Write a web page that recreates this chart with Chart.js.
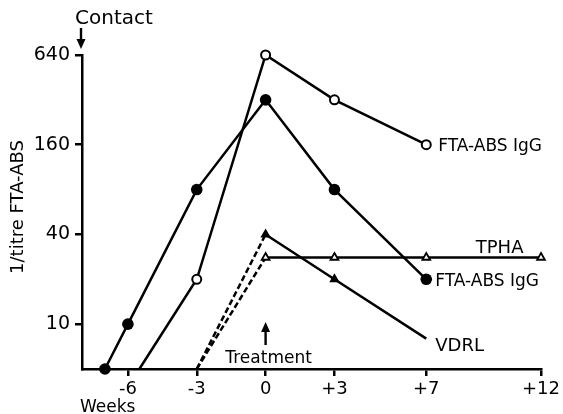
<!DOCTYPE html>
<html>
<head>
<meta charset="utf-8">
<script src="https://cdn.jsdelivr.net/npm/chart.js@4/dist/chart.umd.min.js"></script>
<style>
  html, body { margin: 0; padding: 0; background: #fff; }
  #wrap { width: 563px; height: 414px; }
</style>
</head>
<body>
<div id="wrap"><canvas id="c" width="563" height="414"></canvas></div>
<script>
// ---- data (weeks relative to treatment, 1/titre) ----
const openIgGWeeks   = [-5.5, -3, 0, 3, 7];
const openIgGTitres  = [5, 20, 640, 320, 160];
const filledIgGWeeks = [-7, -6, -3, 0, 3, 7];
const filledIgGTitres= [5, 10, 80, 320, 80, 20];
const vdrlWeeks      = [-3, 0, 3, 7];
const vdrlTitres     = [5, 40, 20, 8];
const tphaWeeks      = [-3, 0, 3, 7, 12];
const tphaTitres     = [5, 28, 28, 28, 28];
const xTickValues    = [-6, -3, 0, 3, 7, 12];
const xTickLabels    = ['-6', '-3', '0', '+3', '+7', '+12'];
const yTickValues    = [10, 40, 160, 640];
const seriesLabels   = ['FTA-ABS IgG', 'FTA-ABS IgG', 'VDRL', 'TPHA'];

const FONT = '"DejaVu Sans", sans-serif';
const pts = (xs, ys) => xs.map((x, i) => ({x: x, y: ys[i]}));
const dashBeforeZero = ctx => ctx.p0.parsed.x < 0 ? [6, 3] : undefined;

const annotations = {
  id: 'annotations',
  afterDraw(chart) {
    const ctx = chart.ctx;
    const xs = chart.scales.x, ys = chart.scales.y;
    ctx.save();
    ctx.fillStyle = '#000';
    ctx.strokeStyle = '#000';
    ctx.textBaseline = 'alphabetic';
    ctx.textAlign = 'left';
    // series labels
    ctx.font = '17px ' + FONT;
    ctx.fillText(seriesLabels[0], xs.getPixelForValue(7) + 12, ys.getPixelForValue(160) + 6);
    ctx.fillText(seriesLabels[1], xs.getPixelForValue(7) + 9, ys.getPixelForValue(20) + 7);
    ctx.font = '18px ' + FONT;
    ctx.fillText(seriesLabels[2], xs.getPixelForValue(7) + 9, ys.getPixelForValue(8) + 12);
    ctx.fillText(seriesLabels[3], xs.getPixelForValue(9.2) - 1, ys.getPixelForValue(28) - 5);
    // Contact
    ctx.font = '20px ' + FONT;
    ctx.fillText('Contact', 75, 24);
    const cx = xs.left - 1;
    ctx.lineWidth = 2.4;
    ctx.beginPath(); ctx.moveTo(cx, 28); ctx.lineTo(cx, 44); ctx.stroke();
    ctx.beginPath(); ctx.moveTo(cx - 4.5, 39); ctx.lineTo(cx + 4.5, 39); ctx.lineTo(cx, 49); ctx.closePath(); ctx.fill();
    // Treatment
    const tx = xs.getPixelForValue(0);
    ctx.font = '17px ' + FONT;
    ctx.textAlign = 'center';
    ctx.fillText('Treatment', tx + 3, 363);
    ctx.beginPath(); ctx.moveTo(tx, 345); ctx.lineTo(tx, 328); ctx.stroke();
    ctx.beginPath(); ctx.moveTo(tx - 4.5, 332); ctx.lineTo(tx + 4.5, 332); ctx.lineTo(tx, 322); ctx.closePath(); ctx.fill();
    // Weeks
    ctx.textAlign = 'left';
    ctx.font = '17px ' + FONT;
    ctx.fillText('Weeks', 80, 412);
    // y title
    ctx.translate(23, 207);
    ctx.rotate(-Math.PI / 2);
    ctx.textAlign = 'center';
    ctx.font = '18px ' + FONT;
    ctx.fillText('1/titre FTA-ABS', 0, 0);
    ctx.restore();
  }
};

new Chart(document.getElementById('c'), {
  type: 'line',
  data: {
    datasets: [
      {
        data: pts(openIgGWeeks, openIgGTitres),
        borderColor: '#000', borderWidth: 2.5,
        pointStyle: 'circle',
        pointRadius: openIgGWeeks.map((w, i) => i === 0 ? 0 : 4.5),
        pointBackgroundColor: '#fff', pointBorderColor: '#000', pointBorderWidth: 2,
        clip: false
      },
      {
        data: pts(filledIgGWeeks, filledIgGTitres),
        borderColor: '#000', borderWidth: 2.5,
        pointStyle: 'circle', pointRadius: 5.8,
        pointBackgroundColor: '#000', pointBorderColor: '#000', pointBorderWidth: 0,
        clip: false
      },
      {
        data: pts(vdrlWeeks, vdrlTitres),
        borderColor: '#000', borderWidth: 2.5,
        segment: { borderDash: dashBeforeZero },
        pointStyle: 'triangle',
        pointRadius: vdrlWeeks.map((w, i) => (i === 0 || i === vdrlWeeks.length - 1) ? 0 : 6),
        pointBackgroundColor: '#000', pointBorderColor: '#000', pointBorderWidth: 0,
        clip: false
      },
      {
        data: pts(tphaWeeks, tphaTitres),
        borderColor: '#000', borderWidth: 2.5,
        segment: { borderDash: dashBeforeZero },
        pointStyle: 'triangle',
        pointRadius: tphaWeeks.map((w, i) => i === 0 ? 0 : 4.5),
        pointBackgroundColor: '#fff', pointBorderColor: '#000', pointBorderWidth: 1.8,
        clip: false
      }
    ]
  },
  options: {
    responsive: false,
    animation: false,
    events: [],
    layout: { autoPadding: false, padding: { top: 55, right: 14, bottom: 0, left: 0 } },
    plugins: { legend: { display: false }, tooltip: { enabled: false } },
    elements: { line: { tension: 0, fill: false } },
    scales: {
      x: {
        type: 'linear', min: -8, max: 12,
        afterFit(s) { s.height = 45; },
        afterBuildTicks(s) { s.ticks = xTickValues.map(v => ({value: v})); },
        ticks: {
          autoSkip: false, maxRotation: 0, padding: 3, color: '#000',
          font: { family: FONT, size: 18 },
          callback: v => xTickLabels[xTickValues.indexOf(v)]
        },
        grid: { drawOnChartArea: false, drawTicks: true, tickLength: 7, color: '#000', lineWidth: 2.5 },
        border: { display: true, color: '#000', width: 2.5 }
      },
      y: {
        type: 'logarithmic', min: 5, max: 640,
        afterFit(s) { s.width = 82; },
        afterBuildTicks(s) { s.ticks = yTickValues.map(v => ({value: v})); },
        ticks: {
          autoSkip: false, padding: 5, color: '#000',
          font: { family: FONT, size: 19 },
          callback: v => String(v)
        },
        grid: { drawOnChartArea: false, drawTicks: true, tickLength: 7, color: '#000', lineWidth: 2.5 },
        border: { display: true, color: '#000', width: 2.5 }
      }
    }
  },
  plugins: [annotations]
});
</script>
</body>
</html>
